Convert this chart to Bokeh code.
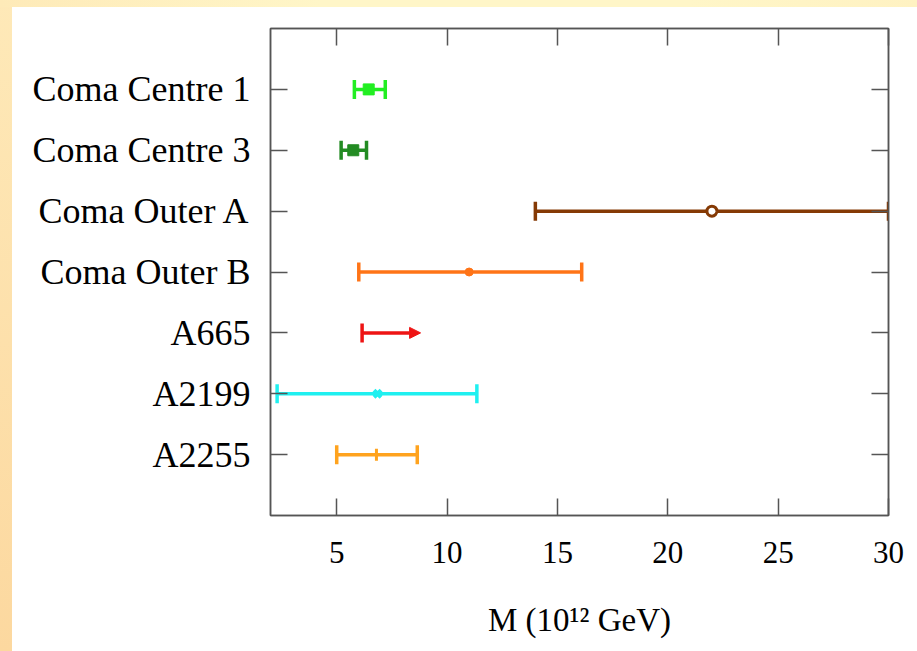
import math

from bokeh.plotting import figure
from bokeh.models import (FactorRange, Range1d, LinearAxis, CategoricalAxis,
                          FixedTicker, Arrow, NormalHead, ColumnDataSource)
from bokeh.embed import file_html
from bokeh.resources import INLINE

# Mass estimates per cluster, in units of 10^12 GeV
clusters = ["Coma Centre 1", "Coma Centre 3", "Coma Outer A", "Coma Outer B",
            "A665", "A2199", "A2255"]
m_low = [5.8, 5.2, 14.0, 6.0, 6.15, 2.3, 5.0]
m_best = [6.45, 5.75, 22.0, 11.0, None, 6.85, 6.8]
m_high = [7.2, 6.35, 30.0, 16.1, 8.8, 11.35, 8.65]
lower_limit = [False, False, False, False, True, False, False]
x_ticks = [5, 10, 15, 20, 25, 30]

colors = ["#22ee22", "#238b23", "#853a05", "#ff7417", "#ee1414", "#1ff0f0", "#ffa31e"]
centre_marks = [
    dict(marker="square", size=11),
    dict(marker="square", size=11),
    dict(marker="circle", size=10, fill_color="white", line_width=3),
    dict(marker="circle", size=8),
    None,
    dict(marker="x", size=10, line_width=4),
    dict(marker="dash", size=12, angle=math.pi / 2, line_width=3),
]

SERIF = "Liberation Serif"
FRAME = "#555555"
LW = 3.5

p = figure(width=917, height=651,
           x_range=Range1d(2, 30),
           y_range=FactorRange(factors=clusters[::-1], range_padding=0.5,
                               range_padding_units="absolute"),
           output_backend="svg", toolbar_location=None,
           min_border_left=270, min_border_right=29,
           min_border_top=28, min_border_bottom=136,
           background_fill_color="white", border_fill_color=None,
           outline_line_color=FRAME, outline_line_width=1.5)

p.styles = {
    "background":
        "linear-gradient(#ffffff, #ffffff) 12px 7px / calc(100% - 12px) calc(100% - 7px) no-repeat, "
        "linear-gradient(90deg, #feeab8, #fff6c8 35%, #fff6c8 75%, #fff2c2) 0 0 / 100% 7px no-repeat, "
        "linear-gradient(180deg, #fee9b8, #fcd89f) 0 0 / 12px 100% no-repeat",
}

p.xgrid.grid_line_color = None
p.ygrid.grid_line_color = None

# bottom axis
xa = p.xaxis[0]
xa.ticker = FixedTicker(ticks=x_ticks)
xa.axis_label = "M (10\u00b9\u00b2 GeV)"
xa.axis_label_text_font = SERIF
xa.axis_label_text_font_size = "33px"
xa.axis_label_text_font_style = "normal"
xa.axis_label_text_color = "black"
xa.axis_label_standoff = 36
xa.major_label_text_font = SERIF
xa.major_label_text_font_size = "31px"
xa.major_label_text_color = "black"
xa.major_label_standoff = 26

# left axis
ya = p.yaxis[0]
ya.major_label_text_font = SERIF
ya.major_label_text_font_size = "36px"
ya.major_label_text_color = "black"
ya.major_label_standoff = 20

# tick-only axes on the top and right edges
top = LinearAxis(ticker=FixedTicker(ticks=x_ticks), major_label_text_font_size="0px",
                 major_label_text_color=None, major_label_text_alpha=0,
                 major_label_standoff=0)
right = CategoricalAxis(major_label_text_font_size="0px", major_label_text_color=None,
                        major_label_text_alpha=0, major_label_standoff=0)
p.add_layout(top, "above")
p.add_layout(right, "right")

for ax in [xa, ya, top, right]:
    ax.axis_line_color = FRAME
    ax.axis_line_width = 1.5
    ax.major_tick_line_color = FRAME
    ax.major_tick_line_width = 1.5
    ax.major_tick_in = 17
    ax.major_tick_out = 0
    ax.minor_tick_line_color = None

for i, name in enumerate(clusters):
    c = colors[i]
    if lower_limit[i]:
        src = ColumnDataSource(dict(x0=[m_low[i]], x1=[m_high[i]], y=[name]))
        p.add_layout(Arrow(source=src, x_start="x0", y_start="y", x_end="x1", y_end="y",
                           line_color=c, line_width=LW,
                           end=NormalHead(size=11, fill_color=c, line_color=c, line_width=1)))
        p.scatter(x=[m_low[i]], y=[name], marker="dash", angle=math.pi / 2,
                  size=19, line_color=c, line_width=LW)
        continue
    p.segment(x0=[m_low[i]], y0=[name], x1=[m_high[i]], y1=[name],
              line_color=c, line_width=LW)
    p.scatter(x=[m_low[i], m_high[i]], y=[name, name], marker="dash",
              angle=math.pi / 2, size=19, line_color=c, line_width=LW)
    mk = dict(centre_marks[i])
    mk.setdefault("fill_color", c)
    mk.setdefault("line_width", 1)
    p.scatter(x=[m_best[i]], y=[name], line_color=c, **mk)

open("out.html", "w").write(file_html(p, INLINE))
